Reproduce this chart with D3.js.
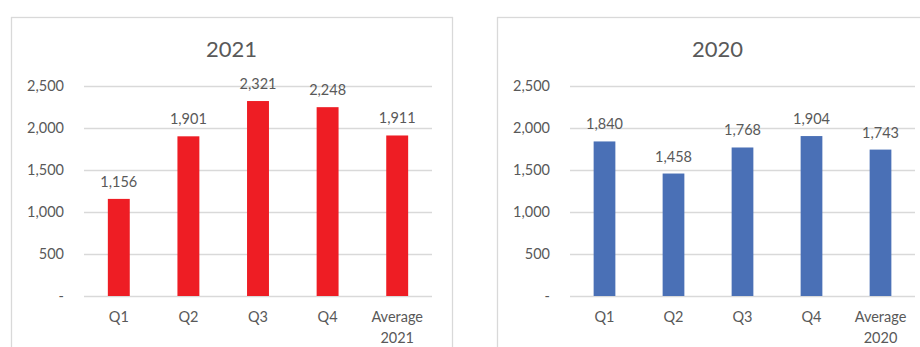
<!DOCTYPE html>
<html>
<head>
<meta charset="utf-8">
<script src="https://cdn.jsdelivr.net/npm/d3@7/dist/d3.min.js"></script>
<style>
  html, body { margin: 0; padding: 0; background: #fff; }
  svg { display: block; }
  text { font-family: Lato, "Noto Sans", sans-serif; fill: #595959; }
</style>
</head>
<body>
<svg id="chart" width="920" height="347"></svg>
<script>
// Quarterly figures with the yearly average as a fifth column
const categories = ["Q1", "Q2", "Q3", "Q4", "Average"];
const values2021 = [1156, 1901, 2321, 2248, 1911];
const values2020 = [1840, 1458, 1768, 1904, 1743];
const yTicks = [0, 500, 1000, 1500, 2000, 2500];

const fmt = d3.format(",");
const svg = d3.select("#chart");

function panel(opts) {
  const g = svg.append("g");

  // card outline
  g.append("rect")
    .attr("x", opts.boxX + 0.5).attr("y", 17.5)
    .attr("width", opts.boxW).attr("height", 360)
    .attr("fill", "#fff").attr("stroke", "#d9d9d9").attr("stroke-width", 1.3);

  g.append("text")
    .attr("x", opts.boxX + opts.boxW / 2).attr("y", 57)
    .attr("text-anchor", "middle")
    .style("font-size", "22px")
    .text(opts.title);

  const x = d3.scaleBand().domain(categories)
    .range([opts.plotL, opts.plotR]).paddingInner(0.685).paddingOuter(0.3425);
  const y = d3.scaleLinear().domain([0, 2500]).range([296, 86]);

  // horizontal gridlines (axis with full-width ticks)
  const yAxis = d3.axisLeft(y).tickValues(yTicks)
    .tickSize(-(opts.plotR - opts.plotL))
    .tickPadding(20)
    .tickFormat(d => d === 0 ? "-" : fmt(d));
  const ag = g.append("g").attr("transform", `translate(${opts.plotL},0)`).call(yAxis);
  ag.select(".domain").remove();
  ag.selectAll(".tick line").attr("stroke", "#d9d9d9").attr("stroke-width", 1.3);
  ag.selectAll(".tick text")
    .style("font-size", "14.5px")
    .attr("fill", "#595959");

  // bars
  g.selectAll("rect.bar").data(opts.values).enter().append("rect")
    .attr("class", "bar")
    .attr("x", (d, i) => x(categories[i]))
    .attr("y", d => y(d))
    .attr("width", x.bandwidth())
    .attr("height", d => y(0) - y(d))
    .attr("fill", opts.color);

  // value labels
  g.selectAll("text.val").data(opts.values).enter().append("text")
    .attr("class", "val")
    .attr("x", (d, i) => x(categories[i]) + x.bandwidth() / 2)
    .attr("y", d => y(d) - 12)
    .attr("text-anchor", "middle")
    .style("font-size", "14.5px")
    .text(d => fmt(d));

  // category labels
  categories.forEach((c, i) => {
    const t = g.append("text")
      .attr("x", x(c) + x.bandwidth() / 2)
      .attr("y", 322)
      .attr("text-anchor", "middle")
      .style("font-size", "14.5px");
    if (c === "Average") {
      t.append("tspan").attr("x", x(c) + x.bandwidth() / 2).text("Average");
      t.append("tspan").attr("x", x(c) + x.bandwidth() / 2).attr("dy", 21).text(opts.title);
    } else {
      t.text(c);
    }
  });
}

panel({ title: "2021", values: values2021, color: "#ee1d24",
        boxX: 11, boxW: 441, plotL: 84, plotR: 432 });
panel({ title: "2020", values: values2020, color: "#4a70b6",
        boxX: 497, boxW: 441, plotL: 570, plotR: 915 });
</script>
</body>
</html>
